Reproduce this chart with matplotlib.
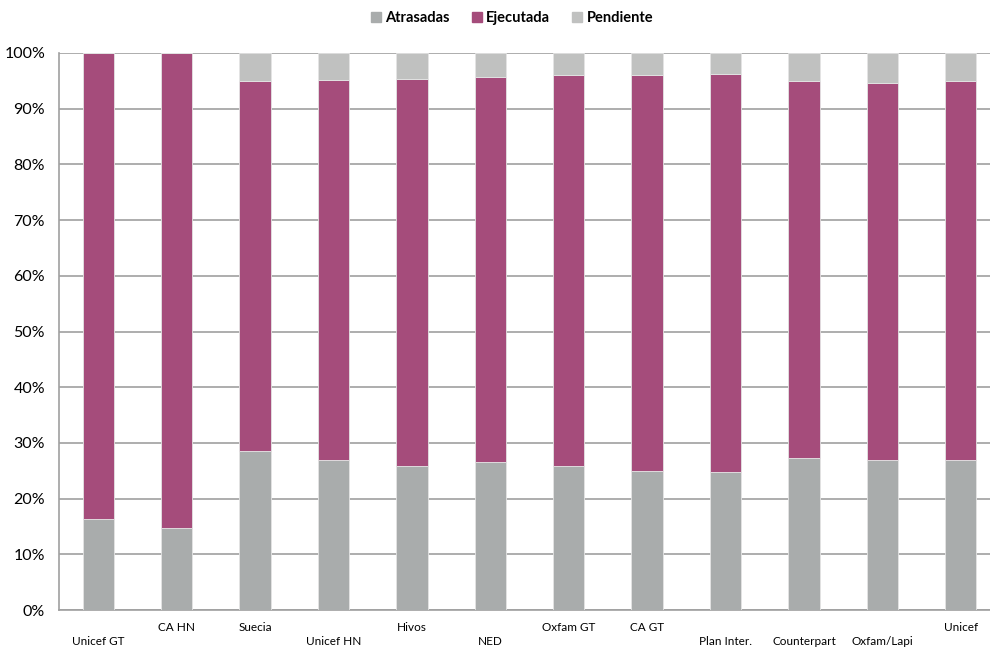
import numpy as np
import matplotlib.pyplot as plt
from matplotlib.patches import Patch

# Datos por donante (porcentajes)
donantes = ["Unicef GT", "CA HN", "Suecia", "Unicef HN", "Hivos", "NED",
            "Oxfam GT", "CA GT", "Plan Inter.", "Counterpart", "Oxfam/Lapi", "Unicef"]
atrasadas = [16.3, 14.8, 28.6, 26.9, 25.8, 26.6, 25.8, 25.0, 24.7, 27.2, 26.9, 26.9]
ejecutada_tope = [100, 100, 94.9, 95.2, 95.4, 95.7, 96.0, 96.0, 96.3, 94.9, 94.7, 94.9]
ejecutada = [t - a for t, a in zip(ejecutada_tope, atrasadas)]
pendiente = [100 - t for t in ejecutada_tope]
fila_baja = [True, False, False, True, False, True, False, False, True, True, True, False]

c_atr = "#A9ACAC"
c_eje = "#A54C7B"
c_pen = "#C0C1C0"

plt.rcParams['font.family'] = ['Lato', 'DejaVu Sans']

fig = plt.figure(figsize=(9.9, 6.47), dpi=100)
# category width ~78.45 px; axis runs past the right border as in the reference
ax = fig.add_axes([59 / 990, 37 / 647, 941 / 990, 557 / 647])

x = np.arange(len(donantes))
w = 0.4
ax.bar(x, atrasadas, w, color=c_atr, edgecolor="#E4E4E4", linewidth=0.6, zorder=3)
ax.bar(x, ejecutada, w, bottom=atrasadas, color=c_eje, edgecolor="#E4E4E4", linewidth=0.6, zorder=3)
ax.bar(x, pendiente, w, bottom=ejecutada_tope, color=c_pen, edgecolor="#E4E4E4", linewidth=0.6, zorder=3)

ax.set_xlim(-0.5, len(donantes) - 0.5)
ax.set_ylim(0, 100)
ax.set_yticks(range(0, 101, 10))
ax.set_yticklabels([f"{v}%" for v in range(0, 101, 10)], fontsize=11.5)
ax.yaxis.grid(True, color="#A0A0A0", linewidth=1.2, zorder=0)
ax.tick_params(axis='y', length=0, pad=10)
ax.tick_params(axis='x', length=0, labelbottom=False)

for s in ["top", "right"]:
    ax.spines[s].set_visible(False)
ax.spines["left"].set_color("#A0A0A0")
ax.spines["bottom"].set_color("#A0A0A0")
ax.spines["left"].set_linewidth(1.2)
ax.spines["bottom"].set_linewidth(1.2)

# etiquetas escalonadas como en Excel
for i, nombre in enumerate(donantes):
    yoff = -22.5 if fila_baja[i] else -12.5
    ax.annotate(nombre, (x[i], 0), xytext=(0, yoff), textcoords="offset points",
                ha="center", va="center", fontsize=8.5)

handles = [Patch(color=c_atr, label="Atrasadas"),
           Patch(color=c_eje, label="Ejecutada"),
           Patch(color=c_pen, label="Pendiente")]
leg = fig.legend(handles=handles, loc="center", bbox_to_anchor=(512 / 990, 1 - 18 / 647),
                 ncol=3, frameon=False, handlelength=0.7, handleheight=0.7,
                 handletextpad=0.3, columnspacing=1.5,
                 prop={"weight": "bold", "size": 10.5})

fig.savefig("out.png", dpi=100)
